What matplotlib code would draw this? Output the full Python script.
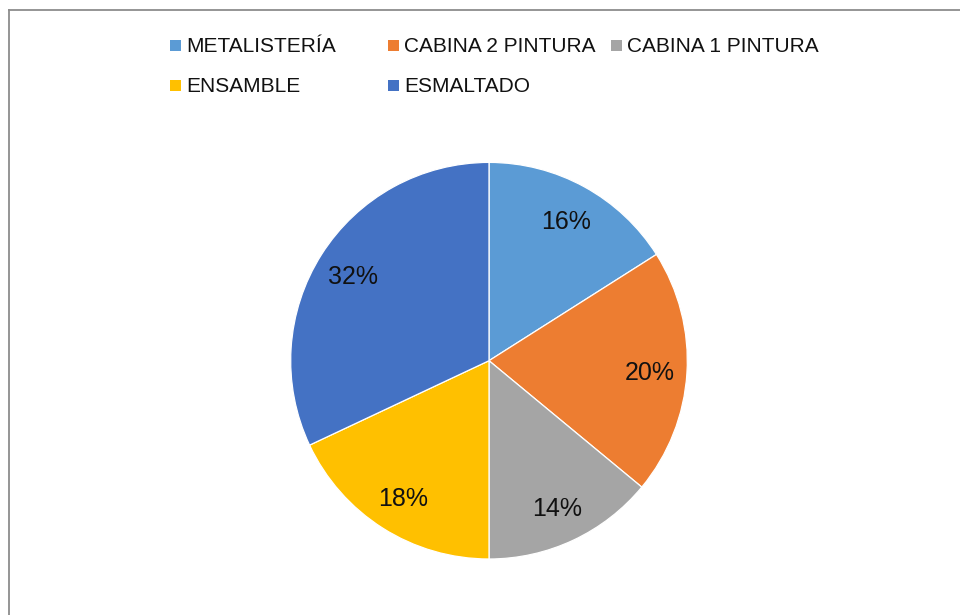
import matplotlib
matplotlib.use("Agg")
import matplotlib.pyplot as plt
from matplotlib.patches import Rectangle
from matplotlib.lines import Line2D

plt.rcParams['font.family'] = ['Liberation Sans', 'DejaVu Sans']

# Share of work per area (percent)
areas = ["METALISTERÍA", "CABINA 2 PINTURA", "CABINA 1 PINTURA", "ENSAMBLE", "ESMALTADO"]
shares = [16, 20, 14, 18, 32]
colors = ["#5B9BD5", "#ED7D31", "#A5A5A5", "#FFC000", "#4472C4"]

W, H = 960, 615
fig = plt.figure(figsize=(W / 100, H / 100), dpi=100)
fig.patch.set_facecolor("white")

# Outer chart frame (top and left edges)
fig.add_artist(Line2D([8.5 / W, 1.0], [1 - 9.5 / H, 1 - 9.5 / H],
                      transform=fig.transFigure, color="#8C8C8C", lw=1.3))
fig.add_artist(Line2D([8.5 / W, 8.5 / W], [0.0, 1 - 9.5 / H],
                      transform=fig.transFigure, color="#8C8C8C", lw=1.3))

# Pie area
cx, cy, r = 489.0, 360.7, 198.3
ax = fig.add_axes([(cx - r) / W, (H - cy - r) / H, 2 * r / W, 2 * r / H])
wedges, texts, autotexts = ax.pie(
    shares, colors=colors, startangle=90, counterclock=False, radius=1.0,
    autopct=lambda p: f"{p:.0f}%", pctdistance=0.81,
    wedgeprops=dict(edgecolor="white", linewidth=0.9),
    textprops=dict(fontsize=18, color="#111111"))
for t in autotexts:
    t.set_va("center_baseline")
ax.set_xlim(-1, 1)
ax.set_ylim(-1, 1)
ax.set_aspect("equal")
ax.axis("off")

# Legend laid out in rows
sq = 11
col_x = [170, 388, 611]
row_base = [52, 92]
order = [(0, 0), (0, 1), (0, 2), (1, 0), (1, 1)]
for i, (row, col) in enumerate(order):
    x0 = col_x[col]
    yb = row_base[row]
    fig.add_artist(Rectangle((x0 / W, 1 - (yb - 1) / H), sq / W, sq / H,
                             transform=fig.transFigure, facecolor=colors[i],
                             edgecolor="none"))
    fig.text((x0 + sq + 5) / W, 1 - yb / H, areas[i], fontsize=15,
             color="#111111", ha="left", va="baseline")

fig.savefig("out.png", dpi=100, facecolor="white")
